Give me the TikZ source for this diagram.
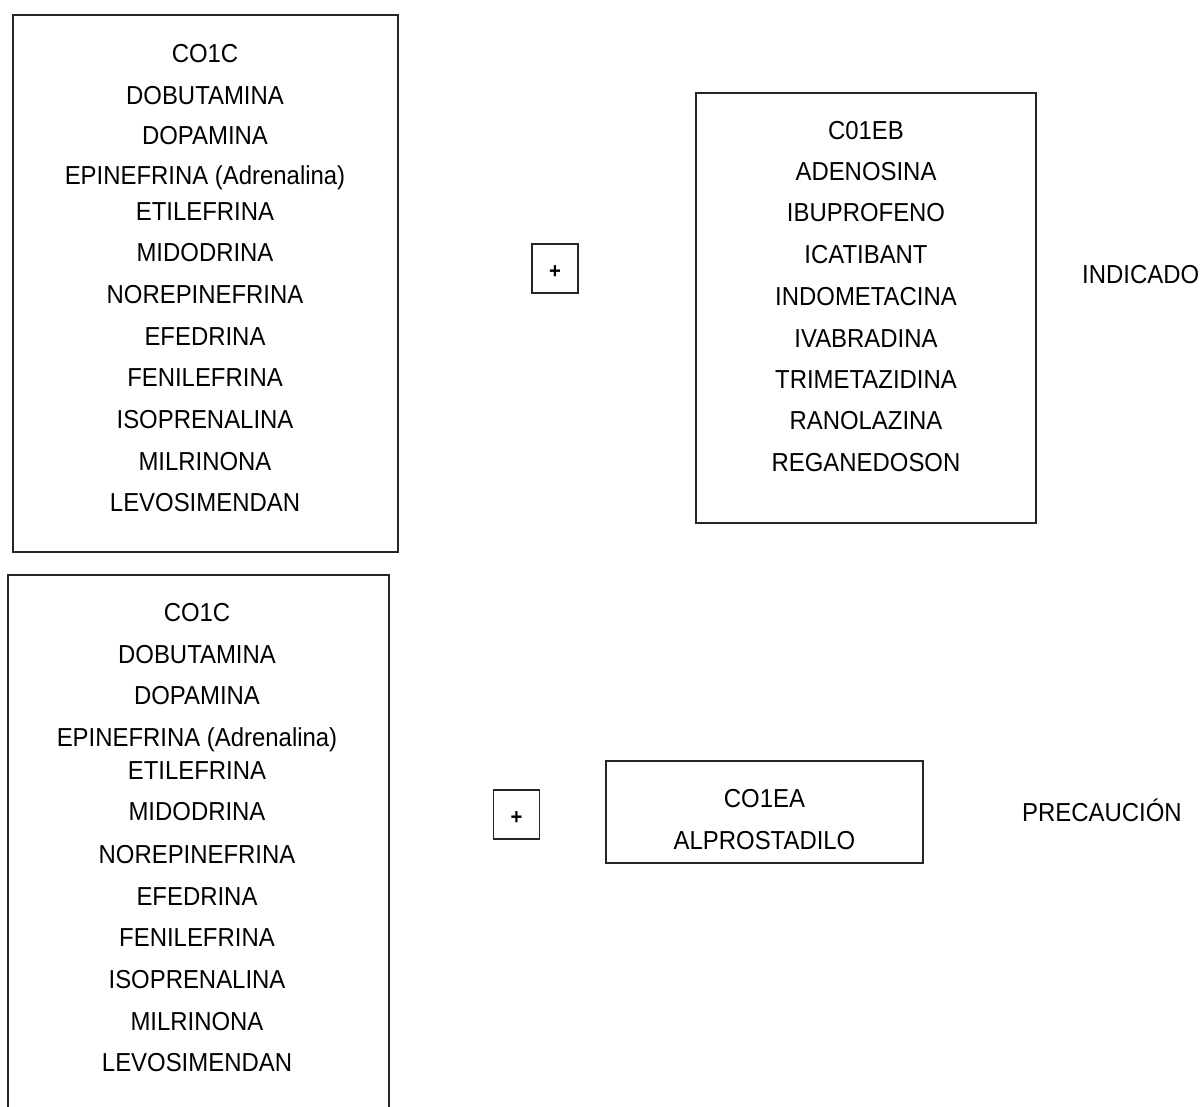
\documentclass[tikz,border=0pt]{standalone}
\usepackage{fontspec}
\setmainfont[FakeStretch=0.92]{Liberation Sans}
\begin{document}
\begin{tikzpicture}[x=1pt,y=-1pt,
  frame/.style={draw=black!85, line width=1.2pt, inner sep=0pt},
  drug/.style={font=\fontsize{26}{30}\selectfont, inner sep=0pt, anchor=base},
  plusbox/.style={draw=black!85, line width=1.2pt, minimum width=46pt,
    minimum height=49pt, inner sep=0pt},
  plussign/.style={inner sep=0pt, font=\bfseries\fontsize{22}{24}\selectfont}]
\useasboundingbox (0,0) rectangle (1201,1106);
\clip (0,0) rectangle (1201,1106);

% group frames
\node[frame, minimum width=385pt, minimum height=537pt] (boxA) at (205.5,283.5) {};
\node[frame, minimum width=340pt, minimum height=430pt] (boxB) at (866,308) {};
\node[frame, minimum width=381pt, minimum height=560pt] (boxC) at (198.5,855) {};
\node[frame, minimum width=317pt, minimum height=102pt] (boxD) at (764.5,812) {};

% plus signs, set a little below the centre of their boxes
\node[plusbox] (plusA) at (555,268.5) {};
\node[plusbox] (plusC) at (516.5,814.5) {};
\node[plussign] (plusAsign) at ([yshift=-4pt]plusA.center) {+};
\node[plussign] (plusCsign) at ([yshift=-4pt]plusC.center) {+};

% first group (top left)
\foreach \t/\b [count=\i] in {CO1C/62, DOBUTAMINA/104, DOPAMINA/144,
    EPINEFRINA (Adrenalina)/184, ETILEFRINA/220, MIDODRINA/261,
    NOREPINEFRINA/303, EFEDRINA/345, FENILEFRINA/386, ISOPRENALINA/428,
    MILRINONA/470, LEVOSIMENDAN/511}
  \node[drug] (a\i) at (205,\b) {\t};

% second group (top right)
\foreach \t/\b [count=\i] in {C01EB/139, ADENOSINA/180, IBUPROFENO/221,
    ICATIBANT/263, INDOMETACINA/305, IVABRADINA/347, TRIMETAZIDINA/388,
    RANOLAZINA/429, REGANEDOSON/471}
  \node[drug] (b\i) at (866,\b) {\t};

% third group (bottom left)
\foreach \t/\b [count=\i] in {CO1C/621, DOBUTAMINA/663, DOPAMINA/704,
    EPINEFRINA (Adrenalina)/746, ETILEFRINA/779, MIDODRINA/820,
    NOREPINEFRINA/863, EFEDRINA/905, FENILEFRINA/946, ISOPRENALINA/988,
    MILRINONA/1030, LEVOSIMENDAN/1071}
  \node[drug] (c\i) at (197,\b) {\t};

% fourth group (bottom right)
\node[drug] (d1) at (764.5,807) {CO1EA};
\node[drug] (d2) at (764.5,849) {ALPROSTADILO};

% outcome labels
\node[drug, anchor=base west] (indicado) at (1082,283) {INDICADO};
\node[drug, anchor=base west] (precaucion) at (1022,821) {PRECAUCIÓN};
\end{tikzpicture}
\end{document}
